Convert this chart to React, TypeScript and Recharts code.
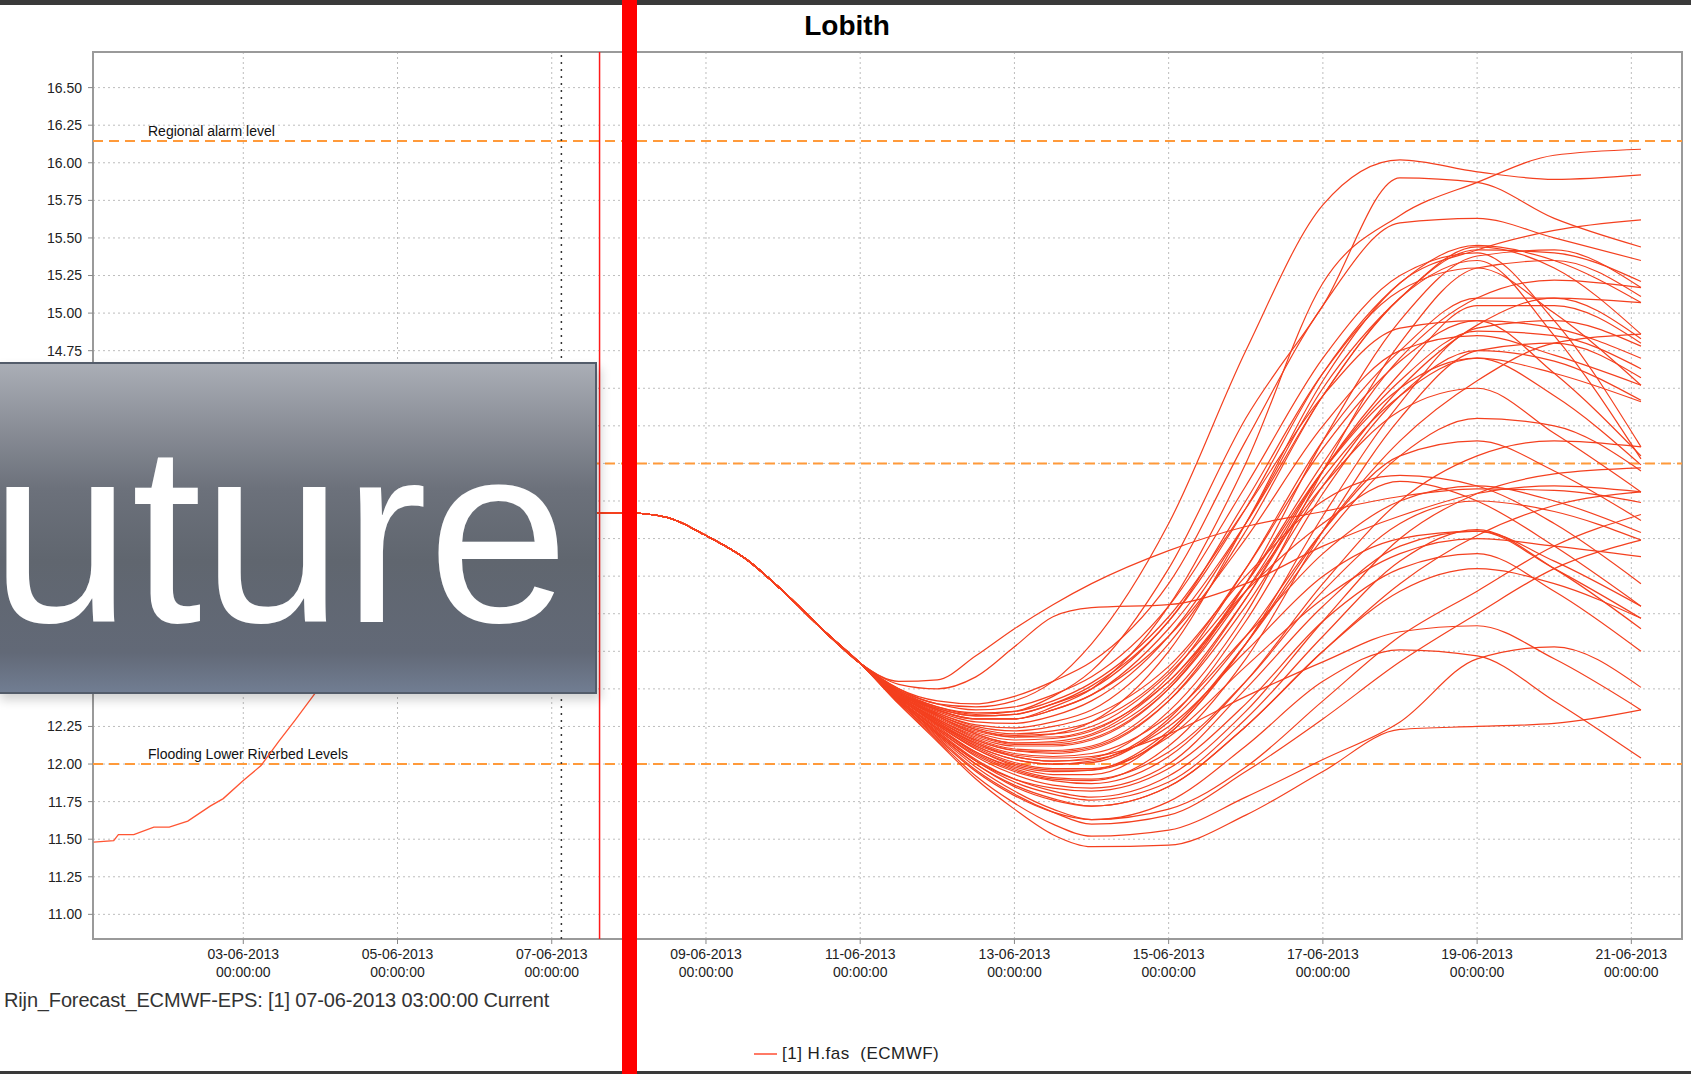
import React from "react";
import {
  CartesianGrid,
  Line,
  LineChart,
  ReferenceArea,
  ReferenceLine,
  XAxis,
  YAxis,
} from "recharts";

// time is in days since 01-06-2013 00:00
const obsTimes = [0.06, 0.32, 0.38, 0.58, 0.84, 1.04, 1.28, 1.57, 1.74, 2.0, 2.23, 2.46, 2.67, 2.93, 3.5, 4.0, 4.5, 5.0, 5.5, 6.0, 6.125];
const obsLevels = [11.48, 11.49, 11.53, 11.53, 11.58, 11.58, 11.62, 11.72, 11.77, 11.89, 11.99, 12.15, 12.29, 12.47, 12.85, 13.15, 13.38, 13.53, 13.62, 13.66, 13.67];

// common part of the forecast before the members split
const trunkTimes = [6.125, 7, 7.5, 8, 8.5, 9, 9.5, 10];
const trunkLevels = [13.67, 13.67, 13.64, 13.52, 13.37, 13.15, 12.9, 12.67];

const memberTimes = [10.5, 11, 11.5, 12, 12.5, 13, 14, 15, 16, 17, 18, 19, 20.125];
const ensembleMembers = [
  [12.5, 12.4, 12.38, 12.42, 12.55, 12.8, 13.6, 14.75, 15.72, 16.02, 15.94, 15.89, 15.92],
  [12.49, 12.38, 12.33, 12.35, 12.45, 12.62, 13.3, 14.3, 15.05, 15.9, 15.87, 15.63, 15.44],
  [12.48, 12.36, 12.3, 12.3, 12.38, 12.5, 13.05, 14.0, 15.2, 15.65, 15.87, 16.05, 16.09],
  [12.5, 12.42, 12.4, 12.45, 12.55, 12.68, 13.2, 14.15, 15.05, 15.6, 15.63, 15.5, 15.35],
  [12.46, 12.32, 12.22, 12.18, 12.2, 12.28, 12.75, 13.6, 14.55, 15.2, 15.42, 15.55, 15.62],
  [12.47, 12.34, 12.26, 12.24, 12.28, 12.36, 12.8, 13.55, 14.45, 15.1, 15.42, 15.4, 15.21],
  [12.48, 12.37, 12.32, 12.33, 12.4, 12.5, 12.95, 13.7, 14.6, 15.2, 15.45, 15.35, 15.07],
  [12.45, 12.3, 12.18, 12.12, 12.12, 12.16, 12.5, 13.2, 14.15, 14.95, 15.38, 15.42, 15.17],
  [12.47, 12.35, 12.28, 12.27, 12.32, 12.42, 12.85, 13.6, 14.5, 15.1, 15.44, 15.3, 14.86],
  [12.44, 12.28, 12.14, 12.05, 12.02, 12.04, 12.35, 13.0, 13.95, 14.8, 15.3, 15.35, 15.11],
  [12.49, 12.4, 12.36, 12.38, 12.46, 12.58, 13.05, 13.85, 14.7, 15.25, 15.4, 14.95, 14.11],
  [12.47, 12.36, 12.3, 12.3, 12.36, 12.46, 12.9, 13.6, 14.45, 15.1, 15.35, 14.85, 14.03],
  [12.46, 12.32, 12.21, 12.16, 12.17, 12.22, 12.58, 13.3, 14.15, 14.75, 15.1, 15.1, 14.83],
  [12.45, 12.29, 12.16, 12.09, 12.07, 12.1, 12.42, 13.1, 13.95, 14.6, 15.05, 15.05, 14.8],
  [12.43, 12.25, 12.08, 11.98, 11.93, 11.93, 12.2, 12.8, 13.65, 14.4, 14.9, 14.95, 14.78],
  [12.46, 12.33, 12.24, 12.2, 12.22, 12.28, 12.62, 13.3, 14.1, 14.68, 14.95, 14.9, 14.7],
  [12.45, 12.3, 12.19, 12.13, 12.13, 12.17, 12.5, 13.15, 13.95, 14.55, 14.88, 14.85, 14.63],
  [12.43, 12.24, 12.07, 11.96, 11.9, 11.89, 12.12, 12.7, 13.55, 14.3, 14.75, 14.8, 14.57],
  [12.47, 12.36, 12.3, 12.3, 12.36, 12.46, 12.85, 13.5, 14.25, 14.75, 14.85, 14.72, 14.52],
  [12.44, 12.27, 12.12, 12.03, 12.0, 12.02, 12.3, 12.95, 13.8, 14.45, 14.75, 14.68, 14.42],
  [12.46, 12.33, 12.23, 12.19, 12.2, 12.25, 12.6, 13.2, 13.95, 14.5, 14.7, 14.6, 14.41],
  [12.48, 12.38, 12.34, 12.35, 12.42, 12.54, 12.98, 13.7, 14.45, 14.9, 14.95, 14.6, 14.05],
  [12.45, 12.3, 12.17, 12.1, 12.09, 12.12, 12.45, 13.1, 13.9, 14.45, 14.7, 14.45, 13.99],
  [12.42, 12.22, 12.03, 11.9, 11.82, 11.78, 11.92, 12.35, 12.95, 13.5, 13.8, 13.93, 13.97],
  [12.44, 12.26, 12.1, 11.99, 11.95, 11.96, 12.22, 12.8, 13.5, 14.05, 14.3, 14.25, 13.95],
  [12.46, 12.32, 12.2, 12.14, 12.15, 12.2, 12.55, 13.15, 13.85, 14.35, 14.5, 14.2, 13.81],
  [12.55, 12.56, 12.72, 12.9, 13.06, 13.2, 13.42, 13.58, 13.68, 13.78, 13.83, 13.82, 13.74],
  [12.41, 12.19, 11.98, 11.82, 11.7, 11.63, 11.7, 11.98, 12.42, 12.85, 13.15, 13.45, 13.66],
  [12.44, 12.27, 12.12, 12.03, 12.0, 12.01, 12.28, 12.85, 13.55, 14.05, 14.15, 13.95, 13.62],
  [12.45, 12.29, 12.15, 12.07, 12.05, 12.07, 12.32, 12.85, 13.4, 13.75, 13.85, 13.75, 13.54],
  [12.43, 12.24, 12.08, 11.97, 11.91, 11.9, 12.08, 12.55, 13.15, 13.6, 13.75, 13.68, 13.49],
  [12.44, 12.26, 12.11, 12.01, 11.97, 11.97, 12.18, 12.65, 13.1, 13.4, 13.5, 13.45, 13.38],
  [12.46, 12.34, 12.25, 12.22, 12.25, 12.32, 12.65, 13.25, 13.75, 13.92, 13.85, 13.6, 13.2],
  [12.45, 12.28, 12.13, 12.05, 12.02, 12.03, 12.25, 12.75, 13.25, 13.5, 13.55, 13.35, 13.05],
  [12.43, 12.23, 12.05, 11.93, 11.86, 11.84, 12.0, 12.5, 13.05, 13.45, 13.55, 13.3, 12.97],
  [12.42, 12.21, 12.02, 11.88, 11.8, 11.76, 11.88, 12.3, 12.85, 13.35, 13.56, 13.3, 12.9],
  [12.44, 12.27, 12.14, 12.06, 12.04, 12.05, 12.2, 12.45, 12.68, 12.88, 12.92, 12.7, 12.36],
  [12.53, 12.5, 12.58, 12.78, 12.98, 13.04, 13.06, 13.2, 13.45, 13.65, 13.8, 13.85, 13.81],
  [12.4, 12.15, 11.9, 11.7, 11.53, 11.45, 11.46, 11.66, 11.95, 12.23, 12.25, 12.27, 12.36],
  [12.4, 12.16, 11.92, 11.74, 11.6, 11.52, 11.56, 11.78, 12.03, 12.28, 12.7, 12.78, 12.51],
  [12.41, 12.17, 11.95, 11.79, 11.68, 11.63, 11.75, 12.12, 12.55, 12.76, 12.72, 12.42, 12.04],
  [12.41, 12.18, 11.96, 11.8, 11.68, 11.6, 11.66, 11.95, 12.3, 12.68, 13.0, 13.3, 13.49],
  [12.42, 12.2, 12.0, 11.86, 11.77, 11.72, 11.85, 12.25, 12.75, 13.2, 13.52, 13.72, 13.81],
  [12.43, 12.23, 12.06, 11.95, 11.89, 11.87, 12.05, 12.55, 13.2, 13.75, 14.05, 14.15, 14.11],
  [12.44, 12.26, 12.1, 12.0, 11.96, 11.96, 12.2, 12.8, 13.55, 14.15, 14.55, 14.8, 14.86],
  [12.45, 12.29, 12.16, 12.09, 12.08, 12.11, 12.42, 13.05, 13.85, 14.5, 14.92, 15.1, 15.07],
  [12.46, 12.31, 12.2, 12.14, 12.14, 12.19, 12.52, 13.2, 14.0, 14.7, 15.1, 15.22, 15.17],
  [12.48, 12.37, 12.32, 12.33, 12.4, 12.52, 12.95, 13.75, 14.6, 15.15, 15.3, 15.0, 14.52],
  [12.46, 12.33, 12.23, 12.18, 12.18, 12.23, 12.55, 13.15, 13.6, 13.88, 13.75, 13.45, 13.05],
  [12.42, 12.2, 12.0, 11.85, 11.76, 11.72, 11.85, 12.25, 12.75, 13.15, 13.3, 13.2, 12.97],
  [12.43, 12.21, 12.02, 11.9, 11.84, 11.82, 11.97, 12.4, 12.95, 13.3, 13.4, 13.15, 12.75],
];

const dayTicks = [2, 4, 6, 8, 10, 12, 14, 16, 18, 20];
const levelTicks = [11, 11.25, 11.5, 11.75, 12, 12.25, 12.5, 12.75, 13, 13.25, 13.5, 13.75, 14, 14.25, 14.5, 14.75, 15, 15.25, 15.5, 15.75, 16, 16.25, 16.5];

const regionalAlarm = 16.145;
const middleLevel = 14.0;
const floodingLevel = 12.0;
const forecastTime = 6.125;
const currentTime = 6.62;

const ENS = "#f4401f";
const ORANGE = "#ff9a3a";
const FONT = '"Liberation Sans", Arial, sans-serif';

// build one table keyed by time
const rowMap = new Map<number, any>();
const rowAt = (t: number) => {
  if (!rowMap.has(t)) rowMap.set(t, { t });
  return rowMap.get(t);
};
obsTimes.forEach((t, i) => (rowAt(t).obs = obsLevels[i]));
trunkTimes.forEach((t, i) => {
  const r = rowAt(t);
  ensembleMembers.forEach((_, k) => (r["m" + k] = trunkLevels[i]));
});
memberTimes.forEach((t, i) => {
  const r = rowAt(t);
  ensembleMembers.forEach((m, k) => (r["m" + k] = m[i]));
});
const data = Array.from(rowMap.values()).sort((a, b) => a.t - b.t);

function DateTick({ x, y, payload }: any) {
  const day = String(Math.round(payload.value) + 1).padStart(2, "0");
  return (
    <g>
      <text x={x} y={y + 13} textAnchor="middle" fontSize={14} fill="#222" fontFamily={FONT}>
        {`${day}-06-2013`}
      </text>
      <text x={x} y={y + 31} textAnchor="middle" fontSize={14} fill="#222" fontFamily={FONT}>
        00:00:00
      </text>
    </g>
  );
}

function LevelLabel({ viewBox, text }: any) {
  if (!viewBox) return null;
  return (
    <text x={viewBox.x + 55} y={viewBox.y - 5} fontSize={14} fill="#111" fontFamily={FONT}>
      {text}
    </text>
  );
}

export default function App() {
  return (
    <div
      style={{
        position: "fixed",
        left: 0,
        top: 0,
        width: 1691,
        height: 1074,
        background: "#fff",
        overflow: "hidden",
        fontFamily: FONT,
      }}
    >
      <LineChart
        width={1691}
        height={1074}
        data={data}
        margin={{ top: 52, right: 9, bottom: 75, left: 0 }}
        style={{ position: "absolute", left: 0, top: 0 }}
      >
        <CartesianGrid stroke="#bdbdbd" strokeDasharray="2 3" />
        <XAxis
          dataKey="t"
          type="number"
          domain={[0.051, 20.657]}
          ticks={dayTicks}
          allowDataOverflow
          height={60}
          axisLine={false}
          tickLine={{ stroke: "#888" }}
          tickSize={5}
          tick={<DateTick />}
        />
        <YAxis
          type="number"
          domain={[10.836, 16.737]}
          ticks={levelTicks}
          allowDataOverflow
          width={93}
          axisLine={false}
          tickLine={{ stroke: "#888" }}
          tickSize={5}
          tickMargin={6}
          tickFormatter={(v) => v.toFixed(2)}
          tick={{ fontSize: 14, fill: "#222", fontFamily: FONT }}
        />
        <ReferenceLine
          y={regionalAlarm}
          stroke={ORANGE}
          strokeWidth={2}
          strokeDasharray="10 6"
          label={<LevelLabel text="Regional alarm level" />}
        />
        <ReferenceLine y={middleLevel} stroke={ORANGE} strokeWidth={2} strokeDasharray="10 6" />
        <ReferenceLine
          y={floodingLevel}
          stroke={ORANGE}
          strokeWidth={2}
          strokeDasharray="10 6"
          label={<LevelLabel text="Flooding Lower Riverbed Levels" />}
        />
        <ReferenceLine x={forecastTime} stroke="#333" strokeWidth={1.5} strokeDasharray="2 5" />
        <ReferenceLine x={currentTime} stroke="#ff1a1a" strokeWidth={1.5} />
        <Line
          dataKey="obs"
          type="linear"
          stroke="#ff5533"
          strokeWidth={1.3}
          dot={false}
          isAnimationActive={false}
        />
        {ensembleMembers.map((_, k) => (
          <Line
            key={k}
            dataKey={"m" + k}
            type="monotone"
            stroke={ENS}
            strokeWidth={1.2}
            dot={false}
            isAnimationActive={false}
          />
        ))}
        <ReferenceArea
          x1={0.051}
          x2={20.657}
          y1={10.836}
          y2={16.737}
          fill="none"
          stroke="#9a9a9a"
          strokeWidth={2}
          ifOverflow="visible"
        />
      </LineChart>

      <div
        style={{
          position: "absolute",
          left: 0,
          top: 10,
          width: 1694,
          textAlign: "center",
          fontSize: 28,
          fontWeight: "bold",
          color: "#000",
        }}
      >
        Lobith
      </div>

      <div style={{ position: "absolute", left: 4, top: 989, fontSize: 20, color: "#333", lineHeight: "22px", letterSpacing: -0.15 }}>
        Rijn_Forecast_ECMWF-EPS: [1] 07-06-2013 03:00:00 Current
      </div>

      <div style={{ position: "absolute", left: 754, top: 1044, display: "flex", alignItems: "center" }}>
        <div style={{ width: 23, height: 2, background: "#ff7a66", marginRight: 5 }} />
        <span style={{ fontSize: 17, color: "#222", letterSpacing: 0.5, whiteSpace: "pre" }}>[1] H.fas  (ECMWF)</span>
      </div>

      <div
        style={{
          position: "absolute",
          left: -4,
          top: 362,
          width: 597,
          height: 328,
          border: "2px solid #535c6a",
          background:
            "linear-gradient(to bottom, #aaaeb6 0%, #8c9099 18%, #6c717b 38%, #60666f 60%, #626977 88%, #717d92 100%)",
          boxShadow: "4px 6px 10px rgba(0,0,0,0.18)",
          overflow: "hidden",
        }}
      >
        <svg width={597} height={328} style={{ position: "absolute", left: 0, top: 0 }}>
          <text x={-8} y={258} fontSize={254} fill="#fff" fontFamily={FONT}>
            uture
          </text>
        </svg>
      </div>

      <div style={{ position: "absolute", left: 0, top: 0, width: 1691, height: 5, background: "#3a3a3a" }} />
      <div style={{ position: "absolute", left: 0, top: 1071, width: 1691, height: 3, background: "#3a3a3a" }} />
      <div style={{ position: "absolute", left: 622, top: 0, width: 15, height: 1074, background: "#ff0000" }} />
    </div>
  );
}
